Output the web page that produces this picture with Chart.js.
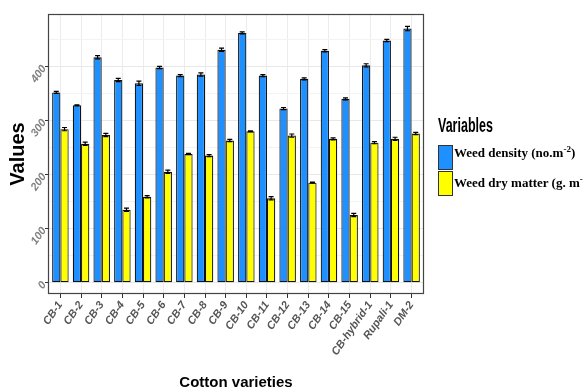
<!DOCTYPE html>
<html>
<head>
<meta charset="utf-8">
<script src="https://cdn.jsdelivr.net/npm/chart.js@4.4.0/dist/chart.umd.min.js"></script>
<style>
  body { margin: 0; background: #fff; }
  #wrap { position: relative; width: 585px; height: 392px; overflow: hidden; }
  #chart { position: absolute; left: 0; top: 0; }
  .leg-title { position: absolute; left: 438px; top: 115px; font: bold 20px "Liberation Sans Narrow", "Liberation Sans", Arial, sans-serif;
    line-height: 20px; white-space: nowrap; transform-origin: 0 0; color: #000; }
  .key { position: absolute; left: 438px; width: 13px; height: 23px; border: 1px solid #333; }
  .leg-text { position: absolute; left: 454px; font: bold 13px "Liberation Serif", "Times New Roman", serif;
    line-height: 13px; white-space: nowrap; color: #000; overflow: hidden; }
  .sup { font-size: 9px; position: relative; top: -5px; }
  .wrapline { position: relative; top: 8px; }
</style>
</head>
<body>
<div id="wrap">
  <canvas id="chart" width="585" height="392"></canvas>
  <div class="leg-title" id="legTitle">Variables</div>
  <div class="key" style="top:145px;background:#1E90FF"></div>
  <div class="key" style="top:171px;background:#FFFF00"></div>
  <div class="leg-text" style="top:146px;height:14px">Weed density (no.m<span class="sup">-2</span>)</div>
  <div class="leg-text" style="top:176px;height:23px">Weed dry matter (g. m<span class="sup">-</span><div class="wrapline"><span class="sup">2</span>)</div></div>
</div>
<script>
const varieties = ["CB-1", "CB-2", "CB-3", "CB-4", "CB-5", "CB-6", "CB-7", "CB-8", "CB-9", "CB-10",
  "CB-11", "CB-12", "CB-13", "CB-14", "CB-15", "CB-hybrid-1", "Rupali-1", "DM-2"];
const weedDensity = [352, 328, 417, 375, 369, 398, 383, 385, 431, 462, 383, 322, 377, 429, 340, 402, 448, 470];
const densityErr = [2, 1, 3, 3, 4, 2, 2, 3, 3, 2, 2, 2, 2, 2, 2, 3, 2, 4];
const weedDryMatter = [284, 257, 273, 135, 159, 205, 238, 235, 263, 280, 156, 272, 185, 266, 125, 259, 266, 276];
const dryErr = [3, 3, 3, 3, 2, 3, 1, 2, 2, 1, 3, 3, 1, 2, 3, 2, 3, 2];
const yTicks = [0, 50, 100, 150, 200, 250, 300, 350, 400, 450];

const tickFont = { family: "'Liberation Sans', Arial, sans-serif", size: 11, style: 'italic', weight: 'bold' };

// fit the legend title to its width in the reference
const lt = document.getElementById('legTitle');
lt.style.transform = 'scaleX(' + (55 / lt.offsetWidth) + ')';

const errorBars = {
  id: 'errorBars',
  afterDatasetsDraw(chart) {
    const ctx = chart.ctx;
    const y = chart.scales.y;
    ctx.save();
    ctx.strokeStyle = '#000';
    ctx.lineWidth = 1.2;
    chart.data.datasets.forEach((ds, i) => {
      chart.getDatasetMeta(i).data.forEach((bar, j) => {
        const v = ds.data[j], e = ds.errors[j];
        const top = y.getPixelForValue(v + e), bot = y.getPixelForValue(v - e);
        const x = bar.x, w = 2.5;
        ctx.beginPath();
        ctx.moveTo(x, top); ctx.lineTo(x, bot);
        ctx.moveTo(x - w, top); ctx.lineTo(x + w, top);
        ctx.moveTo(x - w, bot); ctx.lineTo(x + w, bot);
        ctx.stroke();
      });
    });
    ctx.restore();
  }
};

const panelBorder = {
  id: 'panelBorder',
  afterDraw(chart) {
    const a = chart.chartArea, ctx = chart.ctx;
    ctx.save();
    ctx.strokeStyle = '#444';
    ctx.lineWidth = 1.2;
    ctx.strokeRect(a.left + 0.5, a.top + 0.5, a.right - a.left - 1, a.bottom - a.top - 1);
    ctx.restore();
  }
};

new Chart(document.getElementById('chart'), {
  type: 'bar',
  data: {
    labels: varieties,
    datasets: [
      { label: 'Weed density (no.m-2)', data: weedDensity, errors: densityErr,
        backgroundColor: '#1E90FF', borderColor: '#111', borderWidth: 1.2, borderSkipped: false },
      { label: 'Weed dry matter (g. m-2)', data: weedDryMatter, errors: dryErr,
        backgroundColor: '#FFFF00', borderColor: '#111', borderWidth: 1.2, borderSkipped: false }
    ]
  },
  options: {
    responsive: false,
    animation: false,
    devicePixelRatio: 1,
    layout: { padding: { left: 0, top: 14, right: 161, bottom: 0 } },
    datasets: { bar: { categoryPercentage: 0.8, barPercentage: 1 } },
    plugins: { legend: { display: false }, tooltip: { enabled: false } },
    scales: {
      x: {
        offset: true,
        afterBuildTicks: axis => { axis._startValue = -0.6; axis._valueRange = varieties.length + 0.2; },
        afterFit: axis => { axis.height = 98; },
        grid: { offset: false, color: '#ececec', tickLength: 4, tickColor: '#333' },
        border: { display: false },
        ticks: { autoSkip: false, minRotation: 55, maxRotation: 55, padding: 1, color: '#555', font: tickFont },
        title: { display: true, text: 'Cotton varieties', color: '#000', padding: 0,
          font: { family: "'Liberation Sans Narrow', 'Liberation Sans', Arial, sans-serif", size: 15, weight: 'bold' } }
      },
      y: {
        min: -21,
        max: 497,
        afterBuildTicks: axis => { axis.ticks = yTicks.map(v => ({ value: v })); },
        afterFit: axis => { axis.width = 48; },
        grid: {
          color: c => c.tick && c.tick.value % 100 === 0 ? '#e8e8e8' : '#f3f3f3',
          tickLength: 3,
          tickColor: c => c.tick && c.tick.value % 100 === 0 ? '#333' : 'rgba(0,0,0,0)'
        },
        border: { display: false },
        ticks: { minRotation: 55, maxRotation: 55, padding: 1, color: '#808080', font: tickFont,
          callback: v => v % 100 === 0 ? v : '' },
        title: { display: true, text: 'Values', color: '#000', padding: { top: 6, bottom: 0 },
          font: { family: "'Liberation Sans', Arial, sans-serif", size: 20, weight: 'bold' } }
      }
    }
  },
  plugins: [errorBars, panelBorder]
});
</script>
</body>
</html>
